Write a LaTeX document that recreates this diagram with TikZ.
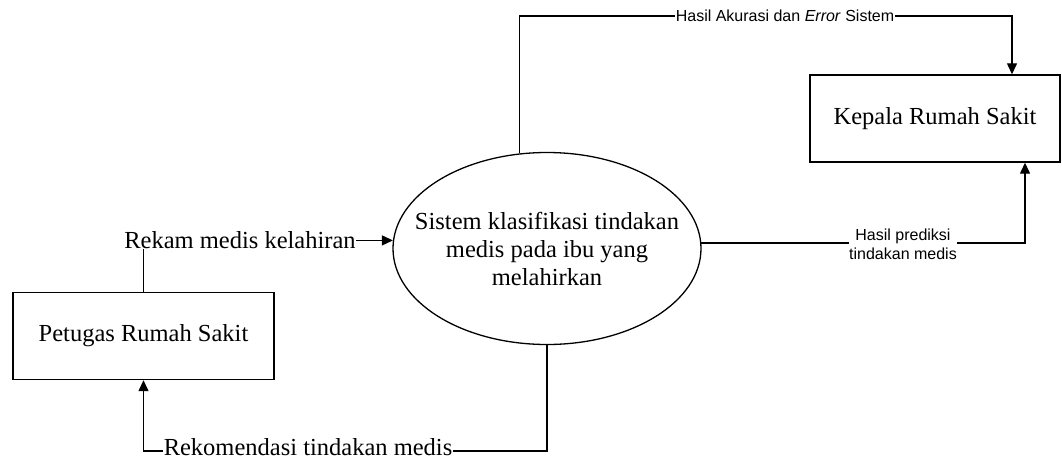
\documentclass[tikz,border=0pt]{standalone}
\usepackage{fontspec}
\setmainfont{Liberation Serif}
\setsansfont{Liberation Sans}
\usetikzlibrary{arrows.meta,shapes.geometric}
\begin{document}
\begin{tikzpicture}[x=1pt,y=-1pt,
  entity/.style={draw,line width=1.4pt,minimum width=#1,minimum height=87pt,inner sep=0pt,
    font=\fontsize{24.5}{28}\selectfont},
  process/.style={draw,line width=1.3pt,ellipse,minimum width=308pt,minimum height=192pt,inner sep=0pt},
  proctext/.style={align=center,inner sep=0pt,font=\fontsize{24.5}{28}\selectfont},
  flow/.style={line width=1.3pt,-{Triangle[length=11pt,width=10pt]}},
  serlbl/.style={fill=white,inner sep=0.5pt,font=\fontsize{24.5}{28}\selectfont},
  sanlbl/.style={fill=white,inner sep=0.5pt,align=center,font=\sffamily\fontsize{16}{19}\selectfont}]
  \fill[white] (0,0) rectangle (1062,461);
  \useasboundingbox (0,0) rectangle (1062,461);

  % external entities and the system process
  \node[entity=261pt] (pet) at (143.5,336) {Petugas Rumah Sakit};
  \node[entity=250pt] (kep) at (935,118.5) {Kepala Rumah Sakit};
  \node[process] (sys) at (547,248.5) {};
  \node[proctext] (systxt) at (sys.center) {Sistem klasifikasi tindakan\\medis pada ibu yang\\melahirkan};

  % corner points of the routed flows
  \coordinate (topy) at (0,16);
  \coordinate (boty) at (0,451);
  \coordinate (rgtx) at (1025,0);
  \coordinate (kepin) at (1012,0);

  % data flows
  \draw[flow] (pet.north) |- (sys.177);
  \draw[flow] (sys.south) -- (sys.south |- boty) -| (pet.south);
  \draw[flow] (sys.106) -- (sys.106 |- topy) -| (kep.north -| kepin);
  \draw[flow] (sys.2) -| (kep.south -| rgtx);

  % flow labels
  \node[serlbl] (l1) at (240,240) {Rekam medis kelahiran};
  \node[serlbl] (l2) at (308,447) {Rekomendasi tindakan medis};
  \node[sanlbl] (l3) at (785,16) {Hasil Akurasi dan \textit{Error} Sistem};
  \node[sanlbl] (l4) at (903,244) {Hasil prediksi\\tindakan medis};
\end{tikzpicture}
\end{document}
